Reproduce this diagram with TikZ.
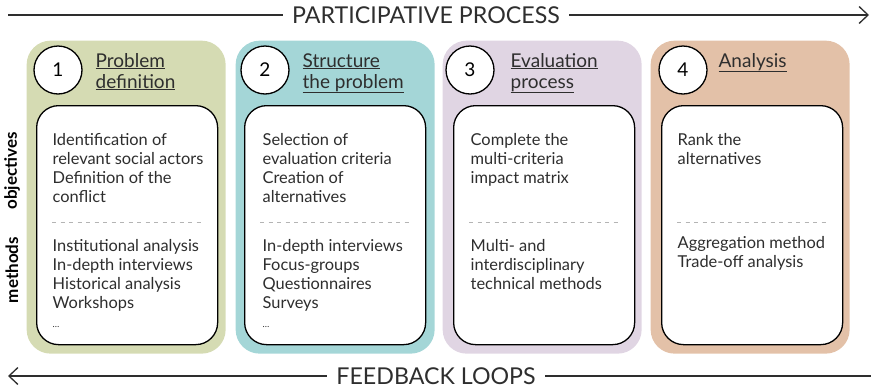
\documentclass[tikz,border=0pt]{standalone}
\usepackage{fontspec}
\setmainfont{Lato}
\usetikzlibrary{arrows.meta}

\definecolor{ink}{HTML}{2E2E2E}
\definecolor{sepgray}{HTML}{B4B4B4}
\definecolor{olive}{HTML}{D5DBB3}
\definecolor{teal}{HTML}{A4D6D7}
\definecolor{lilac}{HTML}{E0D5E3}
\definecolor{peach}{HTML}{E3C1A8}

\begin{document}
\begin{tikzpicture}[x=1pt, y=-1pt, line width=1.3pt,
    panel/.style = {rounded corners=24pt, minimum width=199pt, minimum height=313pt, anchor=north west, inner sep=0pt},
    card/.style = {draw=black, rounded corners=22pt, fill=white, minimum width=181pt, minimum height=239pt, anchor=north west, inner sep=0pt},
    num/.style = {draw=black, circle, fill=white, minimum size=48pt, inner sep=0pt, font=\fontsize{19}{19}\selectfont},
    % multi-line nodes sit on the baseline of their last line
    title/.style = {anchor=base west, align=left, inner sep=0pt, text=ink, font=\fontsize{19}{21}\selectfont},
    txt/.style = {anchor=base west, align=left, inner sep=0pt, text=ink, font=\fontsize{16.4}{19.2}\selectfont},
    side/.style = {rotate=90, inner sep=0pt, font=\bfseries\fontsize{17}{17}\selectfont},
    sep/.style = {draw=sepgray, line width=0.8pt, dash pattern=on 4pt off 4.5pt},
    flow/.style = {draw=ink, line width=1.3pt},
    big/.style = {inner xsep=9pt, inner ysep=0pt, text depth=0pt, text=ink, font=\fontsize{23.2}{23.2}\selectfont}]

    \useasboundingbox (0,0) rectangle (871,389);

    % participative process / feedback loops
    \coordinate (pl) at (8,15);
    \coordinate (pr) at (869,15);
    \node[big] (pp) at (426,15) {PARTICIPATIVE PROCESS};
    \draw[flow] (pl) -- (pp);
    \draw[flow, -{Straight Barb[length=9pt,width=17pt]}] (pp) -- (pr);

    \coordinate (fl) at (8,376);
    \coordinate (fr) at (871,376);
    \node[big] (fb) at (436,376) {FEEDBACK LOOPS};
    \draw[flow, -{Straight Barb[length=9pt,width=17pt]}] (fb) -- (fl);
    \draw[flow] (fb) -- (fr);

    % row labels
    \node[side] (obj) at (12,171) {objectives};
    \node[side] (met) at (12,270) {methods};

    % panels
    \node[panel, fill=olive] (p1) at (26,40) {};
    \node[panel, fill=teal]  (p2) at (235,40) {};
    \node[panel, fill=lilac] (p3) at (442,40) {};
    \node[panel, fill=peach] (p4) at (650,40) {};

    \node[card] (c1) at (36,105) {};
    \node[card] (c2) at (244,105) {};
    \node[card] (c3) at (453,105) {};
    \node[card] (c4) at (661,105) {};

    \node[num] (n1) at (58,70) {1};
    \node[num] (n2) at (265,70) {2};
    \node[num] (n3) at (470,70) {3};
    \node[num] (n4) at (683,70) {4};

    \node[title] (t1) at (95,88) {\underline{Problem}\\\underline{definition}};
    \node[title] (t2) at (302,88) {\underline{Structure}\\\underline{the problem}};
    \node[title] (t3) at (510,88) {\underline{Evaluation}\\\underline{process}};
    \node[title] (t4) at (718,67) {\underline{Analysis}};

    % objectives
    \node[txt] (o1) at (52,202.6) {Identification of\\relevant social actors\\Definition of the\\conflict};
    \node[txt] (o2) at (262,202.6) {Selection of\\evaluation criteria\\Creation of\\alternatives};
    \node[txt] (o3) at (470,183.4) {Complete the\\multi-criteria\\impact matrix};
    \node[txt] (o4) at (677,164.2) {Rank the\\alternatives};

    \draw[sep] (52,222) -- (201,222);
    \draw[sep] (260,222) -- (409,222);
    \draw[sep] (469,222) -- (618,222);
    \draw[sep] (677,222) -- (826,222);

    % methods
    \node[txt] (m1) at (52,327.8) {Institutional analysis\\In-depth interviews\\Historical analysis\\Workshops\\{\small\dots}};
    \node[txt] (m2) at (262,327.8) {In-depth interviews\\Focus-groups\\Questionnaires\\Surveys\\{\small\dots}};
    \node[txt] (m3) at (470,289.4) {Multi- and\\interdisciplinary\\technical methods};
    \node[txt] (m4) at (677,267.2) {Aggregation method\\Trade-off analysis};

\end{tikzpicture}
\end{document}
